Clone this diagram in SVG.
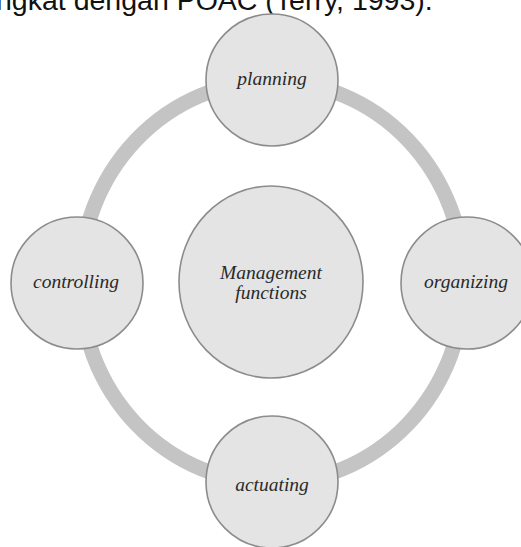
<svg xmlns="http://www.w3.org/2000/svg" width="521" height="547" viewBox="0 0 521 547">
  <style>
    .node { fill: #e4e4e4; stroke: #8c8c8c; stroke-width: 1.6; }
    .label { font-family: "Liberation Serif", "DejaVu Serif", serif; font-style: italic; font-size: 19.5px; fill: #2a2a2a; text-anchor: middle; }
    .ring { fill: none; stroke: #c4c4c4; stroke-width: 15; }
    .caption { font-family: "Liberation Sans", Arial, sans-serif; font-size: 28.5px; fill: #111; }
  </style>
  <rect width="521" height="547" fill="#ffffff"/>

  <!-- running text line, clipped by the top edge -->
  <text class="caption" x="-4" y="10">ngkat dengan POAC (Terry, 1993).</text>

  <!-- cycle ring linking the four functions -->
  <g id="connectors">
    <ellipse class="ring" cx="272" cy="282" rx="192" ry="201"/>
  </g>

  <g id="center">
    <ellipse class="node" cx="271" cy="282" rx="92" ry="96"/>
    <text class="label" x="271" y="279">Management</text>
    <text class="label" x="271" y="299">functions</text>
  </g>

  <g id="planning">
    <circle class="node" cx="272" cy="80" r="66"/>
    <text class="label" x="272" y="85">planning</text>
  </g>

  <g id="organizing">
    <circle class="node" cx="467" cy="283" r="66"/>
    <text class="label" x="466" y="288">organizing</text>
  </g>

  <g id="actuating">
    <circle class="node" cx="272" cy="482" r="66"/>
    <text class="label" x="272" y="491">actuating</text>
  </g>

  <g id="controlling">
    <circle class="node" cx="77" cy="283" r="66"/>
    <text class="label" x="76" y="288">controlling</text>
  </g>
</svg>
